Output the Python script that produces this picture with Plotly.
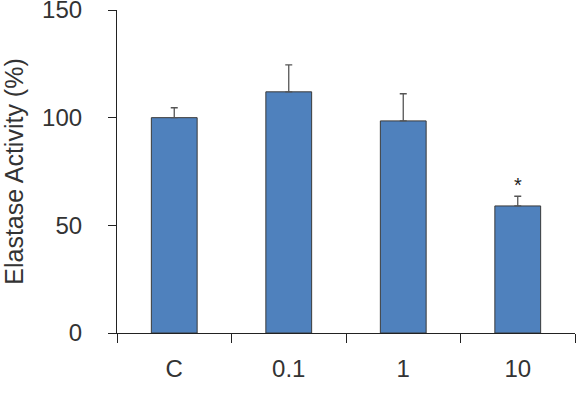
import plotly.graph_objects as go

categories = ["C", "0.1", "1", "10"]
values = [100, 112, 98.5, 59]
errors = [4.6, 12.5, 12.6, 4.5]
y_ticks = [0, 50, 100, 150]
sig_labels = ["", "", "", "*"]

fig = go.Figure()
fig.add_trace(go.Bar(
    x=categories, y=values,
    width=0.4,
    marker=dict(color="#4F81BD", line=dict(color="#3a3a3a", width=1)),
    error_y=dict(type="data", array=errors, arrayminus=[0]*len(errors), symmetric=False,
                 color="#555555", thickness=1.3, width=3.5),
))

for i, (v, e, s) in enumerate(zip(values, errors, sig_labels)):
    if s:
        fig.add_annotation(x=i, y=v + e, text=s, showarrow=False, yanchor="bottom", yshift=-2,
                           font=dict(size=20, color="#222222", family="Liberation Sans, Arial"))

FONT = "Liberation Sans, Arial"
fig.update_layout(
    width=587, height=400,
    margin=dict(l=117, r=12, t=10, b=67, autoexpand=False),
    plot_bgcolor="white", paper_bgcolor="white",
    showlegend=False,
    font=dict(family=FONT, size=24, color="#333333"),
    xaxis=dict(type="category", tickson="boundaries", ticks="outside", ticklen=9,
               tickcolor="#222222", tickwidth=1.2, range=[-0.5, 3.5], automargin=False,
               showline=True, linecolor="#222222", linewidth=1.2,
               showgrid=False, zeroline=False, ticklabelstandoff=14,
               tickfont=dict(size=24, color="#333333")),
    yaxis=dict(range=[0, 150.001], tickvals=y_ticks, ticks="outside", ticklen=8,
               tickcolor="#222222", tickwidth=1.2, ticklabeloverflow="allow", automargin=False,
               showline=True, linecolor="#222222", linewidth=1.2,
               showgrid=False, zeroline=False, ticklabelstandoff=21,
               tickfont=dict(size=24, color="#333333"),
               title=dict(text="Elastase Activity (%)", font=dict(size=25, color="#333333"), standoff=16)),
)

fig.write_html("out.html")
